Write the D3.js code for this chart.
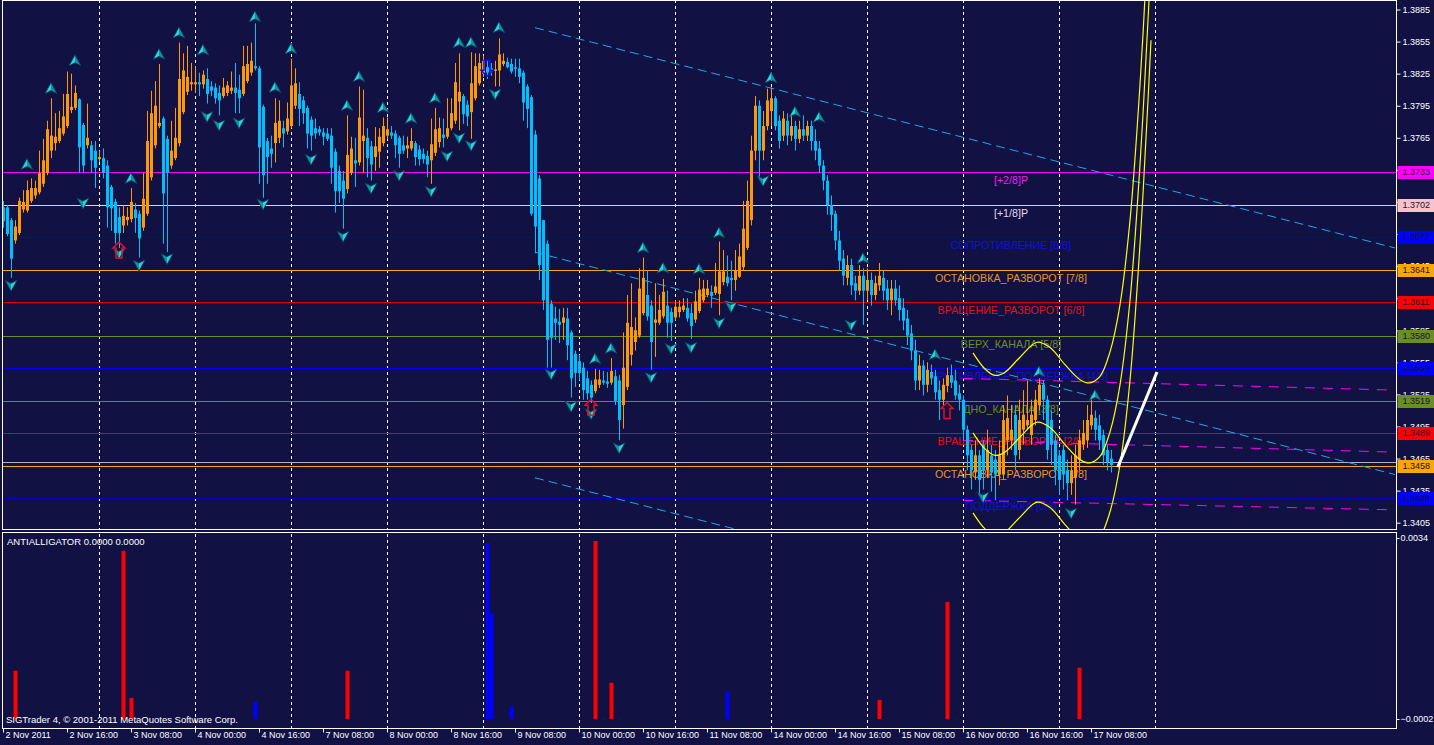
<!DOCTYPE html>
<html><head><meta charset="utf-8">
<script src="https://cdn.jsdelivr.net/npm/d3@7"></script>
<style>body{margin:0;background:#111144;overflow:hidden}svg{display:block}</style>
</head><body>
<svg id="c" width="1434" height="745"></svg>
<script>
// ---------- DATA (EURUSD H1, prices) ----------
const opens=[
1.3700,1.3700,1.3688,1.3669,1.3676,1.3698,1.3697,1.3706,1.3711,1.3714,
1.3722,1.3732,1.3753,1.3760,1.3762,1.3769,1.3776,1.3791,1.3793,1.3801,
1.3777,1.3758,1.3758,1.3753,1.3745,1.3746,1.3739,1.3719,1.3705,1.3691,
1.3683,1.3688,1.3689,1.3698,1.3694,1.3681,1.3694,1.3728,1.3758,1.3776,
1.3783,1.3764,1.3739,1.3746,1.3760,1.3789,1.3808,1.3815,1.3815,1.3817,
1.3815,1.3820,1.3813,1.3812,1.3807,1.3804,1.3807,1.3809,1.3812,1.3810,
1.3806,1.3818,1.3826,1.3832,1.3830,1.3794,1.3762,1.3755,1.3760,1.3765,
1.3774,1.3771,1.3776,1.3795,1.3806,1.3800,1.3793,1.3782,1.3774,1.3773,
1.3770,1.3769,1.3767,1.3752,1.3734,1.3725,1.3717,1.3732,1.3744,1.3742,
1.3762,1.3765,1.3757,1.3747,1.3752,1.3760,1.3767,1.3770,1.3769,1.3765,
1.3758,1.3755,1.3755,1.3760,1.3754,1.3750,1.3748,1.3744,1.3751,1.3761,
1.3768,1.3766,1.3774,1.3781,1.3799,1.3804,1.3796,1.3789,1.3802,1.3816,
1.3825,1.3831,1.3830,1.3828,1.3828,1.3834,1.3836,1.3834,1.3831,1.3830,
1.3826,1.3813,1.3803,1.3768,1.3727,1.3688,1.3666,1.3610,1.3596,1.3593,
1.3592,1.3596,1.3583,1.3563,1.3556,1.3550,1.3540,1.3534,1.3528,1.3534,
1.3538,1.3537,1.3536,1.3542,1.3538,1.3515,1.3532,1.3562,1.3574,1.3580,
1.3601,1.3618,1.3608,1.3592,1.3592,1.3598,1.3608,1.3602,1.3597,1.3602,
1.3604,1.3606,1.3601,1.3595,1.3603,1.3613,1.3618,1.3621,1.3620,1.3619,
1.3630,1.3635,1.3634,1.3632,1.3635,1.3644,1.3662,1.3688,1.3753,1.3795,
1.3753,1.3776,1.3790,1.3802,1.3781,1.3767,1.3781,1.3767,1.3776,1.3764,
1.3773,1.3767,1.3776,1.3762,1.3755,1.3739,1.3725,1.3702,1.3694,1.3669,
1.3652,1.3634,1.3646,1.3629,1.3622,1.3636,1.3622,1.3632,1.3618,1.3627,
1.3634,1.3624,1.3613,1.3624,1.3615,1.3606,1.3596,1.3582,1.3566,1.3538,
1.3552,1.3534,1.3546,1.3542,1.3529,1.3520,1.3533,1.3543,1.3538,1.3526,
1.3520,1.3492,1.3473,1.3452,1.3468,1.3478,1.3454,1.3468,1.3464,1.3450,
1.3450,1.3482,1.3482,1.3506,1.3473,1.3492,1.3496,1.3487,1.3501,1.3515,
1.3534,1.3520,1.3501,1.3482,1.3468,1.3473,1.3454,1.3442,1.3447,1.3464,
1.3478,1.3482,1.3496,1.3503,1.3496,1.3487,1.3473,1.3465];
const closes=[
1.3687,1.3675,1.3652,1.3682,1.3706,1.3705,1.3716,1.3718,1.3718,1.3732,
1.3744,1.3773,1.3767,1.3766,1.3774,1.3785,1.3806,1.3794,1.3807,1.3756,
1.3739,1.3765,1.3744,1.3737,1.3747,1.3732,1.3700,1.3699,1.3676,1.3676,
1.3692,1.3691,1.3705,1.3690,1.3671,1.3708,1.3762,1.3788,1.3795,1.3779,
1.3713,1.3732,1.3753,1.3765,1.3820,1.3828,1.3822,1.3817,1.3817,1.3815,
1.3824,1.3806,1.3809,1.3802,1.3800,1.3812,1.3814,1.3812,1.3807,1.3802,
1.3832,1.3834,1.3837,1.3830,1.3756,1.3730,1.3747,1.3750,1.3779,1.3781,
1.3769,1.3783,1.3814,1.3816,1.3792,1.3788,1.3769,1.3767,1.3769,1.3770,
1.3766,1.3764,1.3737,1.3715,1.3715,1.3708,1.3749,1.3755,1.3741,1.3784,
1.3767,1.3746,1.3740,1.3757,1.3766,1.3776,1.3773,1.3767,1.3758,1.3750,
1.3753,1.3758,1.3762,1.3747,1.3745,1.3745,1.3740,1.3759,1.3773,1.3774,
1.3765,1.3774,1.3788,1.3817,1.3808,1.3787,1.3785,1.3816,1.3832,1.3835,
1.3837,1.3826,1.3827,1.3829,1.3843,1.3837,1.3831,1.3827,1.3830,1.3822,
1.3798,1.3792,1.3694,1.3682,1.3646,1.3613,1.3576,1.3578,1.3592,1.3590,
1.3597,1.3571,1.3540,1.3545,1.3545,1.3529,1.3526,1.3522,1.3539,1.3539,
1.3536,1.3535,1.3547,1.3519,1.3501,1.3550,1.3592,1.3588,1.3585,1.3624,
1.3634,1.3598,1.3574,1.3595,1.3604,1.3621,1.3592,1.3592,1.3607,1.3607,
1.3608,1.3596,1.3589,1.3612,1.3623,1.3624,1.3624,1.3617,1.3626,1.3640,
1.3640,1.3629,1.3632,1.3641,1.3654,1.3680,1.3706,1.3753,1.3795,1.3753,
1.3776,1.3800,1.3802,1.3776,1.3762,1.3783,1.3767,1.3776,1.3764,1.3773,
1.3767,1.3776,1.3762,1.3753,1.3739,1.3725,1.3702,1.3693,1.3669,1.3650,
1.3636,1.3646,1.3627,1.3622,1.3636,1.3622,1.3632,1.3618,1.3629,1.3636,
1.3622,1.3613,1.3624,1.3613,1.3604,1.3594,1.3580,1.3566,1.3538,1.3552,
1.3534,1.3548,1.3540,1.3527,1.3520,1.3534,1.3543,1.3536,1.3524,1.3520,
1.3492,1.3468,1.3454,1.3468,1.3445,1.3454,1.3473,1.3452,1.3450,1.3468,
1.3501,1.3503,1.3492,1.3468,1.3501,1.3506,1.3501,1.3506,1.3520,1.3534,
1.3520,1.3473,1.3478,1.3454,1.3445,1.3450,1.3442,1.3454,1.3468,1.3482,
1.3489,1.3501,1.3506,1.3492,1.3482,1.3468,1.3462,1.3459];
const highs=[
1.3706,1.3702,1.3690,1.3688,1.3709,1.3716,1.3725,1.3727,1.3725,1.3753,
1.3764,1.3781,1.3802,1.3788,1.3790,1.3806,1.3827,1.3825,1.3814,1.3802,
1.3779,1.3797,1.3762,1.3762,1.3753,1.3755,1.3744,1.3721,1.3708,1.3700,
1.3702,1.3700,1.3718,1.3704,1.3697,1.3732,1.3790,1.3809,1.3818,1.3834,
1.3785,1.3767,1.3781,1.3793,1.3854,1.3844,1.3851,1.3835,1.3832,1.3826,
1.3828,1.3830,1.3818,1.3816,1.3814,1.3821,1.3818,1.3827,1.3835,1.3824,
1.3851,1.3851,1.3854,1.3872,1.3832,1.3796,1.3765,1.3767,1.3802,1.3800,
1.3781,1.3798,1.3839,1.3830,1.3817,1.3804,1.3795,1.3785,1.3783,1.3776,
1.3774,1.3774,1.3774,1.3755,1.3739,1.3734,1.3786,1.3766,1.3765,1.3813,
1.3810,1.3774,1.3762,1.3775,1.3774,1.3784,1.3784,1.3776,1.3772,1.3767,
1.3767,1.3766,1.3774,1.3762,1.3758,1.3755,1.3753,1.3783,1.3793,1.3784,
1.3783,1.3802,1.3802,1.3835,1.3844,1.3806,1.3800,1.3845,1.3844,1.3844,
1.3842,1.3837,1.3835,1.3837,1.3858,1.3844,1.3840,1.3839,1.3839,1.3839,
1.3828,1.3815,1.3805,1.3772,1.3730,1.3688,1.3669,1.3613,1.3607,1.3605,
1.3606,1.3606,1.3585,1.3566,1.3562,1.3555,1.3547,1.3538,1.3549,1.3548,
1.3547,1.3546,1.3559,1.3548,1.3543,1.3583,1.3618,1.3629,1.3597,1.3643,
1.3653,1.3641,1.3613,1.3629,1.3618,1.3633,1.3622,1.3606,1.3613,1.3613,
1.3615,1.3615,1.3610,1.3622,1.3634,1.3632,1.3632,1.3627,1.3648,1.3668,
1.3660,1.3655,1.3650,1.3660,1.3666,1.3706,1.3725,1.3767,1.3804,1.3800,
1.3790,1.3811,1.3812,1.3804,1.3786,1.3790,1.3788,1.3786,1.3781,1.3781,
1.3786,1.3781,1.3781,1.3773,1.3762,1.3744,1.3730,1.3711,1.3697,1.3678,
1.3660,1.3655,1.3652,1.3636,1.3646,1.3643,1.3643,1.3639,1.3636,1.3648,
1.3641,1.3632,1.3632,1.3632,1.3627,1.3615,1.3604,1.3590,1.3576,1.3562,
1.3557,1.3555,1.3553,1.3548,1.3538,1.3540,1.3550,1.3553,1.3548,1.3534,
1.3524,1.3496,1.3478,1.3482,1.3473,1.3482,1.3492,1.3478,1.3473,1.3482,
1.3515,1.3524,1.3515,1.3515,1.3520,1.3529,1.3538,1.3520,1.3529,1.3540,
1.3538,1.3524,1.3510,1.3487,1.3473,1.3478,1.3464,1.3468,1.3478,1.3492,
1.3501,1.3515,1.3524,1.3510,1.3506,1.3492,1.3478,1.3473];
const lows=[
1.3681,1.3673,1.3634,1.3666,1.3674,1.3695,1.3695,1.3704,1.3708,1.3712,
1.3719,1.3730,1.3746,1.3753,1.3760,1.3767,1.3774,1.3788,1.3791,1.3732,
1.3732,1.3755,1.3732,1.3718,1.3742,1.3727,1.3681,1.3678,1.3666,1.3662,
1.3676,1.3683,1.3686,1.3676,1.3653,1.3678,1.3692,1.3725,1.3755,1.3774,
1.3666,1.3658,1.3736,1.3744,1.3757,1.3787,1.3805,1.3809,1.3807,1.3804,
1.3811,1.3797,1.3804,1.3797,1.3786,1.3802,1.3804,1.3806,1.3788,1.3788,
1.3804,1.3816,1.3823,1.3828,1.3722,1.3709,1.3722,1.3737,1.3742,1.3760,
1.3756,1.3768,1.3774,1.3792,1.3776,1.3778,1.3755,1.3753,1.3764,1.3767,
1.3758,1.3762,1.3722,1.3695,1.3704,1.3680,1.3713,1.3730,1.3719,1.3739,
1.3732,1.3728,1.3725,1.3734,1.3737,1.3757,1.3764,1.3764,1.3746,1.3737,
1.3750,1.3746,1.3753,1.3739,1.3739,1.3741,1.3728,1.3722,1.3748,1.3756,
1.3756,1.3764,1.3772,1.3778,1.3772,1.3778,1.3776,1.3764,1.3800,1.3814,
1.3822,1.3820,1.3823,1.3813,1.3813,1.3832,1.3830,1.3825,1.3822,1.3816,
1.3781,1.3774,1.3692,1.3657,1.3632,1.3604,1.3550,1.3550,1.3576,1.3573,
1.3576,1.3557,1.3522,1.3532,1.3538,1.3520,1.3520,1.3517,1.3526,1.3531,
1.3534,1.3531,1.3534,1.3515,1.3482,1.3493,1.3529,1.3552,1.3566,1.3578,
1.3599,1.3594,1.3548,1.3560,1.3590,1.3596,1.3578,1.3575,1.3594,1.3597,
1.3602,1.3593,1.3577,1.3592,1.3601,1.3611,1.3616,1.3606,1.3618,1.3599,
1.3627,1.3626,1.3613,1.3622,1.3634,1.3641,1.3660,1.3683,1.3744,1.3725,
1.3744,1.3772,1.3776,1.3772,1.3755,1.3762,1.3758,1.3762,1.3753,1.3760,
1.3762,1.3762,1.3753,1.3744,1.3732,1.3716,1.3693,1.3678,1.3660,1.3641,
1.3627,1.3627,1.3618,1.3613,1.3618,1.3590,1.3613,1.3608,1.3613,1.3622,
1.3613,1.3604,1.3599,1.3608,1.3594,1.3585,1.3571,1.3557,1.3529,1.3529,
1.3524,1.3527,1.3534,1.3520,1.3501,1.3515,1.3527,1.3531,1.3520,1.3510,
1.3482,1.3454,1.3436,1.3445,1.3431,1.3436,1.3447,1.3434,1.3426,1.3440,
1.3445,1.3468,1.3473,1.3454,1.3464,1.3478,1.3492,1.3478,1.3496,1.3510,
1.3501,1.3464,1.3459,1.3440,1.3431,1.3436,1.3426,1.3431,1.3422,1.3454,
1.3473,1.3475,1.3492,1.3482,1.3473,1.3459,1.3454,1.3452];

// time axis
const timeTickIdx=[0,16,32,48,64,80,96,112,128,144,160,176,192,208,224,240,256,272];
const timeLabels=["2 Nov 2011","2 Nov 16:00","3 Nov 08:00","4 Nov 00:00","4 Nov 16:00","7 Nov 08:00","8 Nov 00:00","8 Nov 16:00","9 Nov 08:00","10 Nov 00:00","10 Nov 16:00","11 Nov 08:00","14 Nov 00:00","14 Nov 16:00","15 Nov 08:00","16 Nov 00:00","16 Nov 16:00","17 Nov 08:00"];
const daySepIdx=[24,48,72,96,120,144,168,192,216,240,264,288];
const priceTicks=[1.3405,1.3435,1.3465,1.3495,1.3525,1.3555,1.3585,1.3615,1.3645,1.3675,1.3705,1.3735,1.3765,1.3795,1.3825,1.3855,1.3885];

// Murrey Math levels
const mmLevels=[1.3733,1.3702,1.3672,1.3641,1.3611,1.3580,1.3550,1.3519,1.3489,1.3458,1.3428];
const mmLabels=["[+2/8]P","[+1/8]P","СОПРОТИВЛЕНИЕ [8/8]","ОСТАНОВКА_РАЗВОРОТ [7/8]","ВРАЩЕНИЕ_РАЗВОРОТ [6/8]","ВЕРХ_КАНАЛА [5/8]","СОПРОТИВЛЕНИЕ_ПОДДЕРЖКА [4/8]","ДНО_КАНАЛА [3/8]","ВРАЩЕНИЕ_РАЗВОРОТ [2/8]","ОСТАНОВКА_РАЗВОРОТ [1/8]","ПОДДЕРЖКА [0/8]"];
const bidPrice=1.3462;

// fractals (bar index, price)
const upFracIdx=[6,12,18,32,39,44,50,63,68,72,86,89,95,102,108,114,117,124,148,152,160,165,174,179,192,198,204,215,233,259,273];
const upFracPrice=[1.3740,1.3811,1.3837,1.3727,1.3843,1.3863,1.3847,1.3878,1.3812,1.3848,1.3795,1.3822,1.3793,1.3783,1.3802,1.3854,1.3854,1.3868,1.3558,1.3568,1.3662,1.3643,1.3642,1.3676,1.3821,1.3789,1.3784,1.3652,1.3562,1.3546,1.3524];
const dnFracIdx=[2,20,29,34,41,51,54,59,65,77,85,92,99,107,111,114,117,123,137,142,147,154,162,167,172,179,182,190,212,245,267];
const dnFracPrice=[1.3627,1.3704,1.3657,1.3646,1.3652,1.3785,1.3777,1.3779,1.3703,1.3745,1.3673,1.3718,1.3730,1.3715,1.3748,1.3765,1.3758,1.3806,1.3544,1.3514,1.3507,1.3475,1.3541,1.3568,1.3569,1.3592,1.3607,1.3725,1.3590,1.3429,1.3414];
// signal arrows
const buyArrowIdx=[29,147,236];
const buyArrowPrice=[1.3660,1.3513,1.3510];
const sellArrowIdx=[121];
const sellArrowPrice=[1.3830];

// regression channel (cyan dashed)
const chanIdx=[133,348];
const chanTop=[1.3868,1.3662];
const chanMid=[1.3658,1.3450];
const chanBot=[1.3447,1.3241];
// magenta dashed lines
const magIdx=[240,348];
const magTop=[1.3540,1.3529];
const magMid=[1.3482,1.3471];
const magBot=[1.3426,1.3417];
// polynomial regression (yellow): centre line and band half-width
const polyIdx=[242.5,245.5,248,250.5,254.25,258.5,261.75,265.5,269.25,271.75,274.25,276.75,279.25,281.75,284.25,286.25,287];
const polyCenter=[1.3489,1.3474,1.3468,1.3471,1.3485,1.3499,1.3494,1.3478,1.3464,1.3461,1.3467,1.3490,1.3534,1.3613,1.3740,1.3875,1.3931];
const polyBand=0.00748;
// projection line (white)
const projIdx=[278.7,288.5];
const projPrice=[1.3457,1.3546];

// ANTIALLIGATOR histogram
const indIdx=[3,30,32,63,86,121,122,127,148,152,181,219,236,269];
const indVal=[0.00076,0.00314,0.00022,0.00014,0.00076,0.00330,0.00190,0.00005,0.00334,0.00052,0.00034,0.00018,0.00213,0.00082];
const indUp=[1,1,1,0,1,0,0,0,1,1,0,1,1,1];
const indTicks=[0.0034,-0.0002];

// ---------- DRAW ----------
const BG="#111144", UPC="#ff9900", DNC="#00bfff";
const FONT="'Liberation Sans', Arial, sans-serif";
const mmColors=["#ff00ff","#f4c8d8","#0000c0","#ffa500","#e00000","#6b8e23","#0000ff","#6b8e23","#e00000","#ffa500","#0000c0"];
const mmBoxColors=["#ff00ff","#ffc0cb","#0000ff","#ffa500","#ff0000","#6b8e23","#0000ff","#6b8e23","#ff0000","#ffa500","#0000ff"];
const mmTextColors=["#ee22ee","#e8d8e8","#1010e0","#e8961e","#e81010","#6b8e23","#1010e0","#6b8e23","#e81010","#e8961e","#1010e0"];

const svg=d3.select("#c");
const L=2.5,R=1396.5,T=0.5,MB=529.5,IT=532.5,IB=728.5;
const x=d3.scaleLinear().domain([0,348]).range([3,1395]);
const y=d3.scaleLinear().domain([1.3405,1.3885]).range([522.7,9.5]);
const yi=d3.scaleLinear().domain([-0.0002,0.0034]).range([719,538]);

svg.append("rect").attr("width",1434).attr("height",745).attr("fill",BG);
const defs=svg.append("defs");
defs.append("clipPath").attr("id","cm").append("rect").attr("x",L).attr("y",T).attr("width",R-L).attr("height",MB-T);
defs.append("clipPath").attr("id","ci").append("rect").attr("x",L).attr("y",IT).attr("width",R-L).attr("height",IB-IT);

const gm=svg.append("g").attr("clip-path","url(#cm)");
const gi=svg.append("g").attr("clip-path","url(#ci)");

// day separators
daySepIdx.forEach(d=>{
  [gm,gi].forEach(g=>g.append("line").attr("x1",Math.round(x(d))+0.5).attr("x2",Math.round(x(d))+0.5)
    .attr("y1",0).attr("y2",745).attr("stroke","#ffffff").attr("stroke-dasharray","3,3"));
});

// level lines
mmLevels.forEach((v,k)=>{
  gm.append("line").attr("x1",L).attr("x2",R).attr("y1",Math.round(y(v))+0.5).attr("y2",Math.round(y(v))+0.5)
    .attr("stroke",mmColors[k]).attr("stroke-width",1);
});
gm.append("line").attr("x1",L).attr("x2",R).attr("y1",Math.round(y(bidPrice))+0.5).attr("y2",Math.round(y(bidPrice))+0.5)
  .attr("stroke","#b0b0c0");

// level texts
mmLevels.forEach((v,k)=>{
  gm.append("text").attr("x",x(252)).attr("y",y(v)+12).attr("text-anchor","middle")
    .attr("fill",mmTextColors[k]).attr("font-family",FONT).attr("font-size","10.7px").text(mmLabels[k]);
});

// dashed channels
const ln=d3.line();
function dline(idx,vals,col,dash){
  gm.append("path").attr("d",ln(idx.map((d,j)=>[x(d),y(vals[j])]))).attr("fill","none")
    .attr("stroke",col).attr("stroke-width",1).attr("stroke-dasharray",dash);
}
dline(chanIdx,chanTop,"#1ea8e6","9,5");
dline(chanIdx,chanMid,"#1ea8e6","9,5");
dline(chanIdx,chanBot,"#1ea8e6","9,5");
dline(magIdx,magTop,"#ff00ff","10,8");
dline(magIdx,magMid,"#ff00ff","10,8");
dline(magIdx,magBot,"#ff00ff","10,8");

// candles
const bars=opens.map((o,i)=>({i,o,c:closes[i],h:highs[i],l:lows[i]}));
const gc=gm.append("g");
gc.selectAll("line").data(bars).join("line")
  .attr("x1",d=>Math.round(x(d.i))+0.5).attr("x2",d=>Math.round(x(d.i))+0.5)
  .attr("y1",d=>y(d.h)).attr("y2",d=>y(d.l))
  .attr("stroke",d=>d.c>=d.o?UPC:DNC).attr("stroke-width",1);
gc.selectAll("rect").data(bars).join("rect")
  .attr("x",d=>Math.round(x(d.i))-1).attr("width",3)
  .attr("y",d=>Math.min(y(d.o),y(d.c))).attr("height",d=>Math.max(1.5,Math.abs(y(d.o)-y(d.c))))
  .attr("fill",d=>d.c>=d.o?UPC:DNC);

// fractal arrows
const upPath="M0,-6 L6,5 L0,2 L-6,5 Z";
function frac(idx,prices,rot){
  idx.forEach((d,j)=>{
    const g=gm.append("g").attr("transform",`translate(${x(d)},${y(prices[j])}) rotate(${rot})`);
    g.append("path").attr("d","M0,-6 L0,2 L-6,5 Z").attr("fill","#2ad4dc");
    g.append("path").attr("d","M0,-6 L6,5 L0,2 Z").attr("fill","#14939c");
    g.append("path").attr("d",upPath).attr("fill","none").attr("stroke","#0b3a5a").attr("stroke-width",0.8);
  });
}
frac(upFracIdx,upFracPrice,0);
frac(dnFracIdx,dnFracPrice,180);

// buy / sell block arrows
const blockUp="M0,-8 L6,-2 L3,-2 L3,8 L-3,8 L-3,-2 L-6,-2 Z";
buyArrowIdx.forEach((d,j)=>{
  gm.append("path").attr("d",blockUp).attr("transform",`translate(${x(d)},${y(buyArrowPrice[j])})`)
    .attr("fill","none").attr("stroke","#e01020").attr("stroke-width",1.5);
});
sellArrowIdx.forEach((d,j)=>{
  gm.append("path").attr("d",blockUp).attr("transform",`translate(${x(d)},${y(sellArrowPrice[j])}) rotate(180)`)
    .attr("fill","none").attr("stroke","#1010ff").attr("stroke-width",1.5);
});

// polynomial regression curves
const cl=d3.line().curve(d3.curveCatmullRom);
[0,polyBand,-polyBand].forEach(off=>{
  gm.append("path").attr("d",cl(polyIdx.map((d,j)=>[x(d),y(polyCenter[j]+off)])))
    .attr("fill","none").attr("stroke","#ffff00").attr("stroke-width",1.2);
});
// projection
gm.append("path").attr("d",ln(projIdx.map((d,j)=>[x(d),y(projPrice[j])])))
  .attr("stroke","#ffffff").attr("stroke-width",3).attr("fill","none");

// indicator histogram
gi.selectAll("rect").data(indIdx).join("rect")
  .attr("x",d=>Math.round(x(d))-1.5).attr("width",4)
  .attr("y",(d,j)=>yi(indVal[j])).attr("height",(d,j)=>yi(-0.0002)-yi(indVal[j]))
  .attr("fill",(d,j)=>indUp[j]?"#ff0000":"#0000ff");

// panel borders
svg.append("rect").attr("x",L).attr("y",T).attr("width",R-L).attr("height",MB-T).attr("fill","none").attr("stroke","#ffffff");
svg.append("rect").attr("x",L).attr("y",IT).attr("width",R-L).attr("height",IB-IT).attr("fill","none").attr("stroke","#ffffff");

// price axis
const AXF="9px";
const ax=svg.append("g").attr("transform",`translate(${R},0)`)
  .call(d3.axisRight(y).tickValues(priceTicks).tickSize(4).tickPadding(2).tickFormat(d3.format(".4f")));
ax.select(".domain").remove();
ax.selectAll("line").attr("stroke","#ffffff");
ax.selectAll("text").attr("fill","#ffffff").attr("font-family",FONT).attr("font-size",AXF);

// level boxes on axis
mmLevels.forEach((v,k)=>{
  const yy=Math.round(y(v));
  svg.append("rect").attr("x",R+1).attr("y",yy-6).attr("width",1434-R-1).attr("height",13).attr("fill",mmBoxColors[k]);
  svg.append("text").attr("x",R+6).attr("y",yy).attr("dy","0.35em").attr("fill","#141430")
    .attr("font-family",FONT).attr("font-size",AXF).text(d3.format(".4f")(v));
});

// indicator axis
const ai=svg.append("g").attr("transform",`translate(${R},0)`)
  .call(d3.axisRight(yi).tickValues(indTicks).tickSize(3).tickPadding(1).tickFormat(d3.format(".4f")));
ai.select(".domain").remove();
ai.selectAll("line").attr("stroke","#ffffff");
ai.selectAll("text").attr("fill","#ffffff").attr("font-family",FONT).attr("font-size",AXF);

// time axis
const at=svg.append("g").attr("transform",`translate(0,${IB})`)
  .call(d3.axisBottom(x).tickValues(timeTickIdx).tickSize(4).tickFormat((d,k)=>timeLabels[k]));
at.select(".domain").remove();
at.selectAll("line").attr("stroke","#ffffff");
at.selectAll("text").attr("fill","#ffffff").attr("font-family",FONT).attr("font-size",AXF)
  .attr("text-anchor","start").attr("dx","2").attr("dy","0.3em");

// indicator caption & copyright
svg.append("text").attr("x",7).attr("y",545).attr("fill","#ffffff").attr("font-family",FONT).attr("font-size","9.5px")
  .text("ANTIALLIGATOR 0.0000 0.0000");
svg.append("text").attr("x",6).attr("y",723).attr("fill","#ffffff").attr("font-family",FONT).attr("font-size","9.5px")
  .text("SIGTrader 4, © 2001-2011 MetaQuotes Software Corp.");
</script>
</body></html>
